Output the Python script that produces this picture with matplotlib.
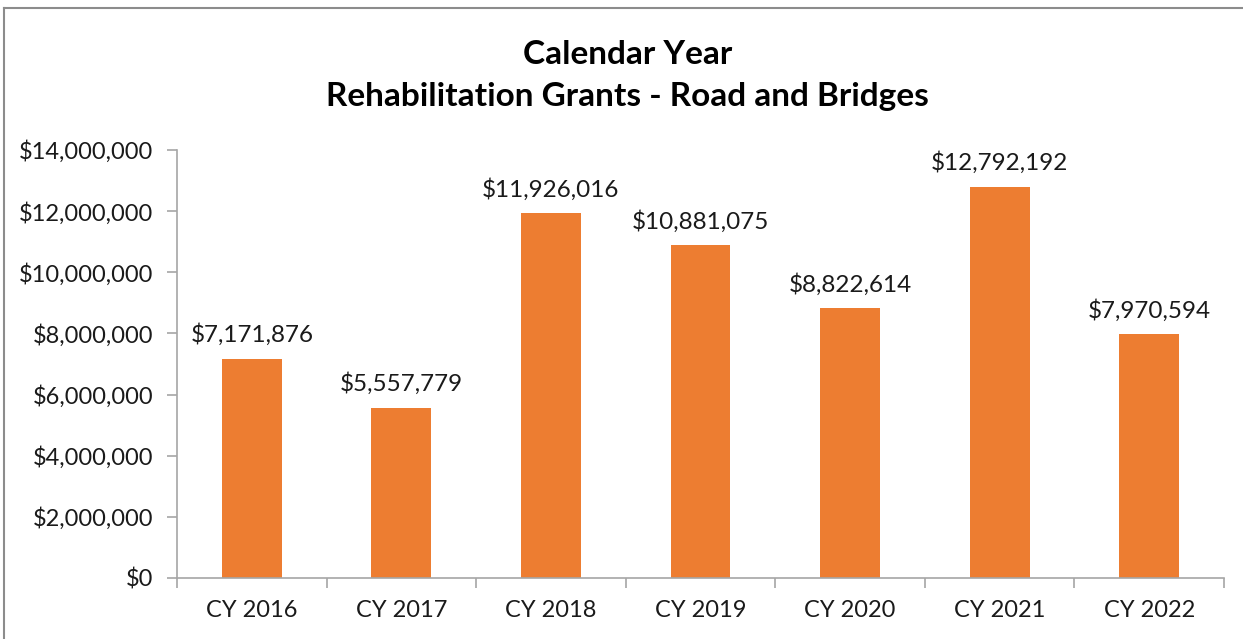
import numpy as np
import matplotlib.pyplot as plt
from matplotlib.lines import Line2D

years = ["CY 2016", "CY 2017", "CY 2018", "CY 2019", "CY 2020", "CY 2021", "CY 2022"]
grants = [7171876, 5557779, 11926016, 10881075, 8822614, 12792192, 7970594]
y_ticks = [0, 2000000, 4000000, 6000000, 8000000, 10000000, 12000000, 14000000]

plt.rcParams['font.family'] = ['Lato', 'DejaVu Sans']

fig = plt.figure(figsize=(12.43, 6.39), dpi=100)
ax = fig.add_axes([0.1424, 0.0955, 0.8423, 0.6698])

x = np.arange(len(years))
bars = ax.bar(x, grants, width=0.4, color='#ED7D31', zorder=2)

# data labels above bars
for xi, v in zip(x, grants):
    ax.text(xi, v + 420000, f"${v:,.0f}", ha='center', va='bottom',
            fontsize=17.5, color='#1a1a1a')

ax.set_xlim(-0.5, len(years) - 0.5)
ax.set_ylim(0, 14000000)
ax.set_yticks(y_ticks)
ax.set_yticklabels([f"${t:,.0f}" for t in y_ticks])

ax.set_xticks(x)
ax.set_xticklabels(years)
ax.set_xticks(np.arange(-0.5, len(years)), minor=True)
ax.tick_params(axis='x', which='major', length=0, pad=16, labelsize=17, labelcolor='#1a1a1a')
ax.tick_params(axis='x', which='minor', length=7, color='#A6A6A6', width=1.2)
ax.tick_params(axis='y', length=7, color='#A6A6A6', width=1.2, pad=10,
               labelsize=17, labelcolor='#1a1a1a')

for side in ['top', 'right']:
    ax.spines[side].set_visible(False)
for side in ['left', 'bottom']:
    ax.spines[side].set_color('#A6A6A6')
    ax.spines[side].set_linewidth(1.2)

fig.text(0.505, 0.914, "Calendar Year", ha='center', va='center',
         fontsize=24, fontweight='bold', color='#000000')
fig.text(0.505, 0.849, "Rehabilitation Grants - Road and Bridges", ha='center', va='center',
         fontsize=24, fontweight='bold', color='#000000')

# outer chart frame (only left and top visible in the crop)
fig.add_artist(Line2D([0.0036, 0.0036], [0, 0.9875], transform=fig.transFigure,
                      color='#8C8C8C', lw=1.5))
fig.add_artist(Line2D([0.0036, 1.0], [0.9875, 0.9875], transform=fig.transFigure,
                      color='#8C8C8C', lw=1.5))

fig.savefig("out.png", dpi=100)
